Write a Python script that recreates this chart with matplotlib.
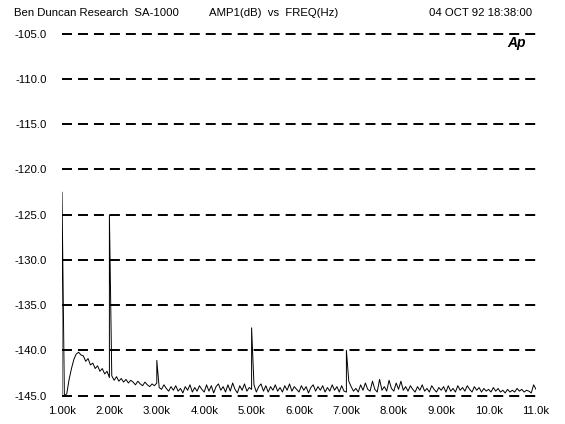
import numpy as np
import matplotlib
matplotlib.use("Agg")
import matplotlib.pyplot as plt

plt.rcParams['font.family'] = ['Liberation Sans', 'DejaVu Sans']
plt.rcParams['lines.scale_dashes'] = False

# noise floor, sampled every 50 Hz from 1.00k to 11.0k (dB)
noise_db = [
    -145.0, -145.0, -144.8, -143.2, -142.0, -141.0, -140.4, -140.2, -140.5, -140.6,
    -141.2, -140.9, -141.6, -141.4, -142.0, -141.7, -142.3, -142.0, -142.6, -142.3,
    -143.0, -142.8, -143.3, -142.9, -143.4, -143.1, -143.5, -143.2, -143.6, -143.3,
    -143.5, -143.8, -143.4, -143.7, -143.9, -143.5, -143.8, -144.0, -143.7, -143.9,
    -143.6, -144.1, -144.3, -143.8, -144.2, -144.5, -144.0, -144.4, -143.9, -144.5,
    -144.2, -144.7, -144.0, -144.4, -143.8, -144.6, -144.1, -144.5, -143.9, -144.3,
    -144.6, -143.8, -144.5, -143.9, -144.7, -144.0, -143.7, -144.4, -144.0, -144.6,
    -143.8, -144.5, -143.6, -144.3, -144.7, -143.9, -144.4, -143.7, -144.5, -144.1,
    -144.3, -143.8, -144.6, -144.0, -143.7, -144.5, -143.9, -144.6, -144.0, -144.4,
    -143.8, -144.5, -144.1, -144.6, -143.9, -144.4, -143.7, -144.5, -144.0, -144.3,
    -144.6, -143.9, -144.4, -144.0, -144.7, -144.1, -143.8, -144.5, -144.0, -144.4,
    -143.9, -144.6, -144.1, -144.5, -143.8, -144.4, -144.0, -144.6, -143.9, -144.5,
    -144.6, -143.4, -144.0, -144.5, -144.2, -144.6, -143.8, -144.4, -143.6, -144.3,
    -144.5, -143.4, -144.3, -144.6, -143.2, -144.4, -144.0, -144.5, -143.3, -144.2,
    -144.5, -143.6, -144.3, -143.4, -144.4, -144.0, -144.5, -143.9, -144.3, -144.6,
    -144.0, -144.4, -143.8, -144.5, -144.2, -144.6, -143.9, -144.3, -144.6, -144.1,
    -144.4, -144.0, -144.6, -143.9, -144.5, -144.2, -144.6, -143.9, -144.4, -144.1,
    -144.5, -143.9, -144.3, -144.6, -144.0, -144.4, -144.1, -144.6, -144.2, -144.5,
    -144.3, -144.6, -144.1, -144.5, -144.2, -144.6, -144.4, -144.7, -144.3, -144.6,
    -144.4, -144.6, -144.2, -144.5, -144.3, -144.6, -144.4, -144.5, -144.7, -143.8,
    -144.3,
]
noise_khz = np.linspace(1.0, 11.0, len(noise_db))

# harmonic spikes
spike_khz = [1.00, 2.00, 3.00, 5.00, 7.00]
spike_db = [-122.5, -125.0, -141.1, -137.5, -140.0]

yticks = [-105.0, -110.0, -115.0, -120.0, -125.0, -130.0, -135.0, -140.0, -145.0]
xticks = [1, 2, 3, 4, 5, 6, 7, 8, 9, 10, 11]
xlabels = ["1.00k", "2.00k", "3.00k", "4.00k", "5.00k", "6.00k",
           "7.00k", "8.00k", "9.00k", "10.0k", "11.0k"]

# merge spikes into trace
f = np.concatenate([noise_khz, spike_khz])
a = np.concatenate([noise_db, spike_db])
order = np.argsort(f, kind="stable")
f, a = f[order], a[order]

W, H = 565, 424
fig = plt.figure(figsize=(W / 100, H / 100), dpi=100)
ax = fig.add_axes([62 / W, (H - 400.2) / H, (536 - 62) / W, (400.2 - 29.2) / H])
ax.set_xlim(1, 11)
ax.set_ylim(-145.5, -104.5)

for s in ax.spines.values():
    s.set_visible(False)

for y in yticks:
    ln = ax.hlines(y, 1.0, 11.0, colors="black", linewidth=1.4, zorder=1)
    ln.set_linestyle((0, (7.2, 4.3)))

ax.plot(f, a, color="black", linewidth=0.7, zorder=2)

ax.set_xticks(xticks)
ax.set_xticklabels(xlabels)
ax.set_yticks(yticks)
ax.set_yticklabels(["%.1f" % v for v in yticks])
ax.tick_params(length=0, labelsize=8.2, colors="black")
ax.tick_params(axis="x", pad=4)
ax.tick_params(axis="y", pad=11)

fig.text(14 / W, 1 - 13 / H, "Ben Duncan Research  SA-1000", fontsize=8.2, va="center", ha="left")
fig.text(209 / W, 1 - 13 / H, "AMP1(dB)  vs  FREQ(Hz)", fontsize=8.2, va="center", ha="left")
fig.text(532 / W, 1 - 13 / H, "04 OCT 92 18:38:00", fontsize=8.2, va="center", ha="right")
fig.text(517 / W, 1 - 43 / H, "Ap", fontsize=10, fontweight="bold", fontstyle="italic",
         va="center", ha="center")

fig.savefig("out.png", dpi=100)
